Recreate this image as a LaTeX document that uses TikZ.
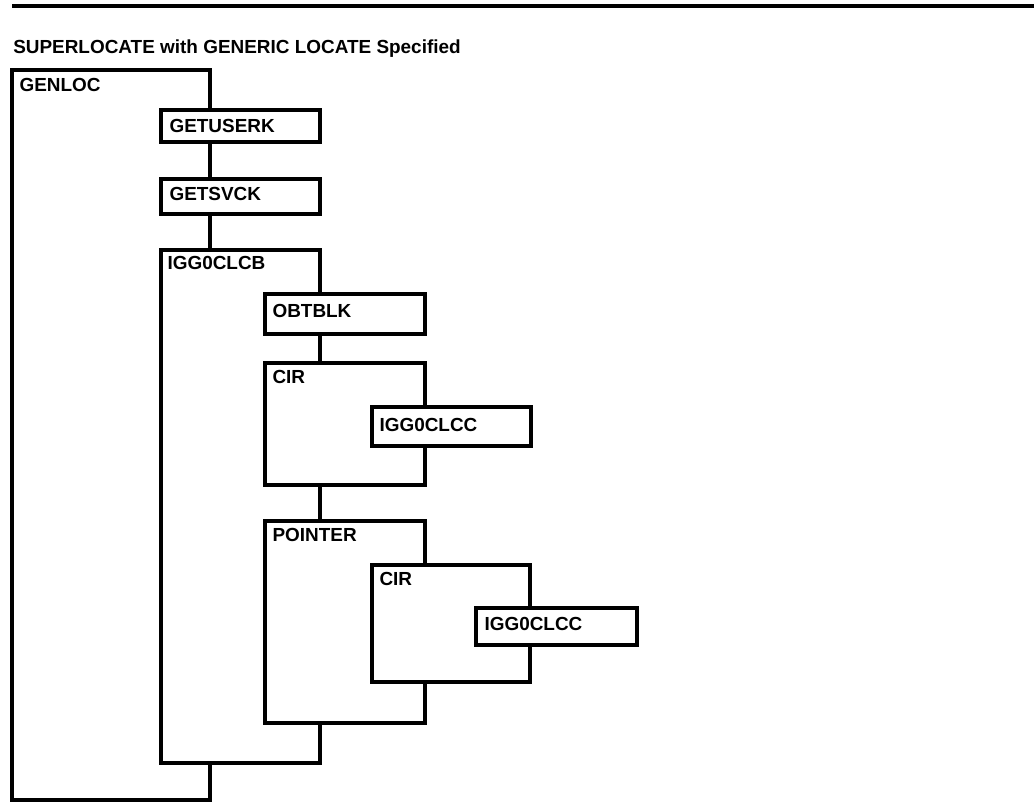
\documentclass[tikz,border=0pt]{standalone}
\usepackage{fontspec}
\setmainfont{Liberation Sans}
\usepackage{tikz}
\usetikzlibrary{fit}

\begin{document}
\begin{tikzpicture}[
        x=0.75pt, y=-0.75pt,
        modbox/.style={draw, fill=white, line width=2.6pt, inner sep=0pt},
        modname/.style={anchor=north west, inner sep=0pt, font=\fontsize{14.2pt}{16pt}\selectfont\bfseries}
    ]
    \useasboundingbox (0,0) rectangle (1034,803);
    \draw[line width=3.4pt] (12,6) -- (1034,6);
    \node[anchor=base west, inner sep=0pt, font=\fontsize{14.2pt}{16pt}\selectfont\bfseries] (title) at (13,53) {SUPERLOCATE with GENERIC LOCATE Specified};

    \node[modbox, fit={(12,70) (210,800)}] (genloc) {};
    \node[modname] at ([shift={(9,10)}]genloc.north west) {GENLOC};

    \node[modbox, fit={(161,110) (320,142)}] (getuserk) {};
    \node[modname] at ([shift={(10,11)}]getuserk.north west) {GETUSERK};

    \node[modbox, fit={(161,179) (320,214)}] (getsvck) {};
    \node[modname] at ([shift={(10,10)}]getsvck.north west) {GETSVCK};

    \node[modbox, fit={(161,250) (320,763)}] (clcb) {};
    \node[modname] at ([shift={(8,8)}]clcb.north west) {IGG0CLCB};

    \node[modbox, fit={(265,294) (425,334)}] (obtblk) {};
    \node[modname] at ([shift={(9,12)}]obtblk.north west) {OBTBLK};

    \node[modbox, fit={(265,363) (425,485)}] (cir1) {};
    \node[modname] at ([shift={(9,9)}]cir1.north west) {CIR};

    \node[modbox, fit={(372,407) (531,446)}] (clcc1) {};
    \node[modname] at ([shift={(9,13)}]clcc1.north west) {IGG0CLCC};

    \node[modbox, fit={(265,521) (425,723)}] (pointer) {};
    \node[modname] at ([shift={(9,9)}]pointer.north west) {POINTER};

    \node[modbox, fit={(372,565) (530,682)}] (cir2) {};
    \node[modname] at ([shift={(9,9)}]cir2.north west) {CIR};

    \node[modbox, fit={(476,608) (637,645)}] (clcc2) {};
    \node[modname] at ([shift={(10,11)}]clcc2.north west) {IGG0CLCC};
\end{tikzpicture}
\end{document}
